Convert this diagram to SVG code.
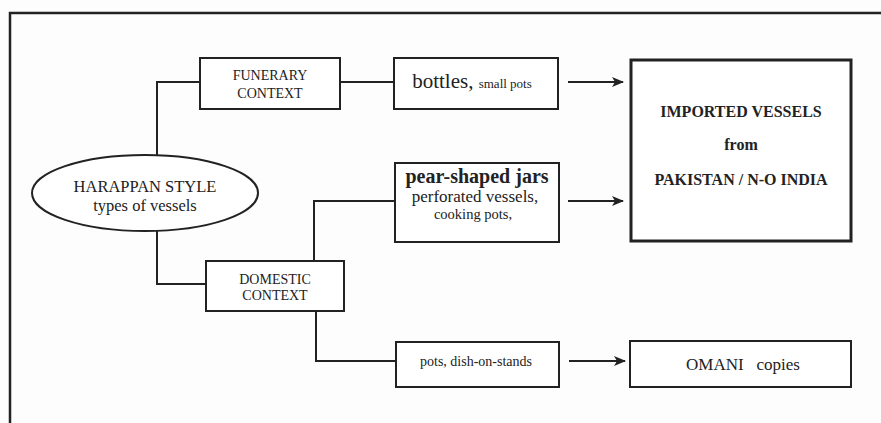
<svg xmlns="http://www.w3.org/2000/svg" width="881" height="423" viewBox="0 0 881 423">
<style>
  .box { fill: #ffffff; stroke: #222; stroke-width: 2; }
  .thick { stroke-width: 3; }
  .ln { fill: none; stroke: #222; stroke-width: 2; }
  text { font-family: "Liberation Serif", "Times New Roman", serif; fill: #222; text-anchor: middle; }
  .b { font-weight: bold; }
</style>
<defs>
  <marker id="arr" viewBox="0 0 12 10" refX="11" refY="5" markerWidth="12" markerHeight="10" markerUnits="userSpaceOnUse" orient="auto">
    <path d="M0,0 L12,5 L0,10 L3,5 z" fill="#222"/>
  </marker>
</defs>
<rect x="0" y="0" width="881" height="423" fill="#fdfdfd"/>
<g id="frame">
  <path d="M10,423 L10,13 L881,13" fill="none" stroke="#222" stroke-width="2.5"/>
</g>
<g id="connectors">
  <path class="ln" d="M157,155 L157,82 L200,82"/>
  <path class="ln" d="M340,82 L394,82"/>
  <path class="ln" d="M157,231 L157,284 L206,284"/>
  <path class="ln" d="M314,261 L314,201 L395,201"/>
  <path class="ln" d="M316,311 L316,361 L396,361"/>
  <path class="ln" d="M568,82 L623,82" marker-end="url(#arr)"/>
  <path class="ln" d="M568,201 L623,201" marker-end="url(#arr)"/>
  <path class="ln" d="M569,361 L625,361" marker-end="url(#arr)"/>
</g>
<g id="harappan">
  <ellipse class="box" cx="145" cy="193" rx="113" ry="38"/>
  <text x="145" y="192" font-size="16.5">HARAPPAN STYLE</text>
  <text x="145" y="211" font-size="16.5">types of vessels</text>
</g>
<g id="funerary">
  <rect class="box" x="200" y="58" width="140" height="51"/>
  <text x="270" y="80" font-size="14">FUNERARY</text>
  <text x="270" y="98" font-size="14">CONTEXT</text>
</g>
<g id="domestic">
  <rect class="box" x="206" y="261" width="138" height="50"/>
  <text x="275" y="284" font-size="14">DOMESTIC</text>
  <text x="275" y="300" font-size="14">CONTEXT</text>
</g>
<g id="bottles">
  <rect class="box" x="394" y="58" width="164" height="51"/>
  <text x="472" y="88"><tspan font-size="21">bottles, </tspan><tspan font-size="13">small pots</tspan></text>
</g>
<g id="pear">
  <rect class="box" x="395" y="163" width="164" height="79"/>
  <text x="477" y="183" font-size="20" class="b">pear-shaped jars</text>
  <text x="475" y="202" font-size="17">perforated vessels,</text>
  <text x="473" y="219" font-size="14.5">cooking pots,</text>
</g>
<g id="pots">
  <rect class="box" x="396" y="342" width="163" height="45"/>
  <text x="476" y="366" font-size="14">pots, dish-on-stands</text>
</g>
<g id="imported">
  <rect class="box thick" x="631" y="60" width="220" height="181"/>
  <text x="741" y="117" font-size="16" class="b">IMPORTED VESSELS</text>
  <text x="741" y="150" font-size="16" class="b">from</text>
  <text x="741" y="185" font-size="16" class="b">PAKISTAN /  N-O INDIA</text>
</g>
<g id="omani">
  <rect class="box" x="630" y="341" width="221" height="46"/>
  <text x="743" y="370" font-size="17" xml:space="preserve">OMANI   copies</text>
</g>
</svg>
